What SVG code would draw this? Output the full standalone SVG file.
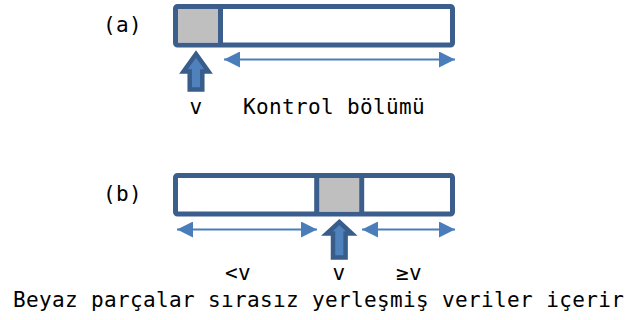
<svg xmlns="http://www.w3.org/2000/svg" width="634" height="320" viewBox="0 0 634 320">
  <style>
    .frame { fill: #ffffff; stroke: #3b5e8c; stroke-width: 5; }
    .cell { fill: #bfbfbf; stroke: none; }
    .divider { stroke: #3b5e8c; stroke-width: 5; }
    .span { stroke: #4a7ebb; stroke-width: 2; fill: none; marker-start: url(#tip); marker-end: url(#tip); }
    .pointer { fill: #4f81bd; stroke: #385d8a; stroke-width: 4.5; stroke-linejoin: miter; }
    .label { font-family: "DejaVu Sans Mono", "Liberation Mono", monospace; font-size: 21px; letter-spacing: 0.36px; fill: #000000; }
  </style>
  <defs>
    <marker id="tip" markerUnits="userSpaceOnUse" markerWidth="16" markerHeight="16" refX="16" refY="8" orient="auto-start-reverse">
      <path d="M0,0 L16,8 L0,16 Z" fill="#4a7ebb"/>
    </marker>
  </defs>

  <!-- (a): pivot placed first, control part follows -->
  <g id="array-a">
    <rect class="frame" x="175.5" y="6.5" width="277" height="38.5" rx="2"/>
    <rect class="cell" x="178" y="9" width="40" height="33.5"/>
    <line class="divider" x1="220.5" y1="6.5" x2="220.5" y2="45"/>
  </g>
  <g id="label-a"><text class="label" x="103" y="32">(a)</text></g>
  <g id="pointer-a"><path class="pointer" d="M196,54 L208.5,71.5 L202.3,71.5 L202.3,89.5 L189.7,89.5 L189.7,71.5 L183.5,71.5 Z"/></g>
  <g id="text-a">
    <text class="label" x="196" y="114" text-anchor="middle">v</text>
    <text class="label" x="243" y="114">Kontrol bölümü</text>
  </g>

  <!-- (b): pivot in the middle, smaller values left, larger right -->
  <g id="array-b">
    <rect class="frame" x="175.5" y="175.5" width="277" height="38.5" rx="2"/>
    <rect class="cell" x="319" y="178" width="40.5" height="33.5"/>
    <line class="divider" x1="316.7" y1="175.5" x2="316.7" y2="214"/>
    <line class="divider" x1="361.7" y1="175.5" x2="361.7" y2="214"/>
  </g>
  <g id="label-b"><text class="label" x="103" y="201">(b)</text></g>
  <g id="pointer-b"><path class="pointer" d="M339.3,222 L351.8,233.5 L345.6,233.5 L345.6,257.5 L333,257.5 L333,233.5 L326.8,233.5 Z"/></g>
  <g id="text-b">
    <text class="label" x="238" y="280" text-anchor="middle">&lt;v</text>
    <text class="label" x="339" y="280" text-anchor="middle">v</text>
    <text class="label" x="409" y="280" text-anchor="middle">≥v</text>
    <text class="label" x="13" y="307">Beyaz parçalar sırasız yerleşmiş veriler içerir</text>
  </g>

  <!-- extent arrows -->
  <g id="connectors">
    <line class="span" x1="224" y1="59.5" x2="455" y2="59.5"/>
    <line class="span" x1="177" y1="229.5" x2="317" y2="229.5"/>
    <line class="span" x1="362" y1="229.5" x2="455" y2="229.5"/>
  </g>
</svg>
